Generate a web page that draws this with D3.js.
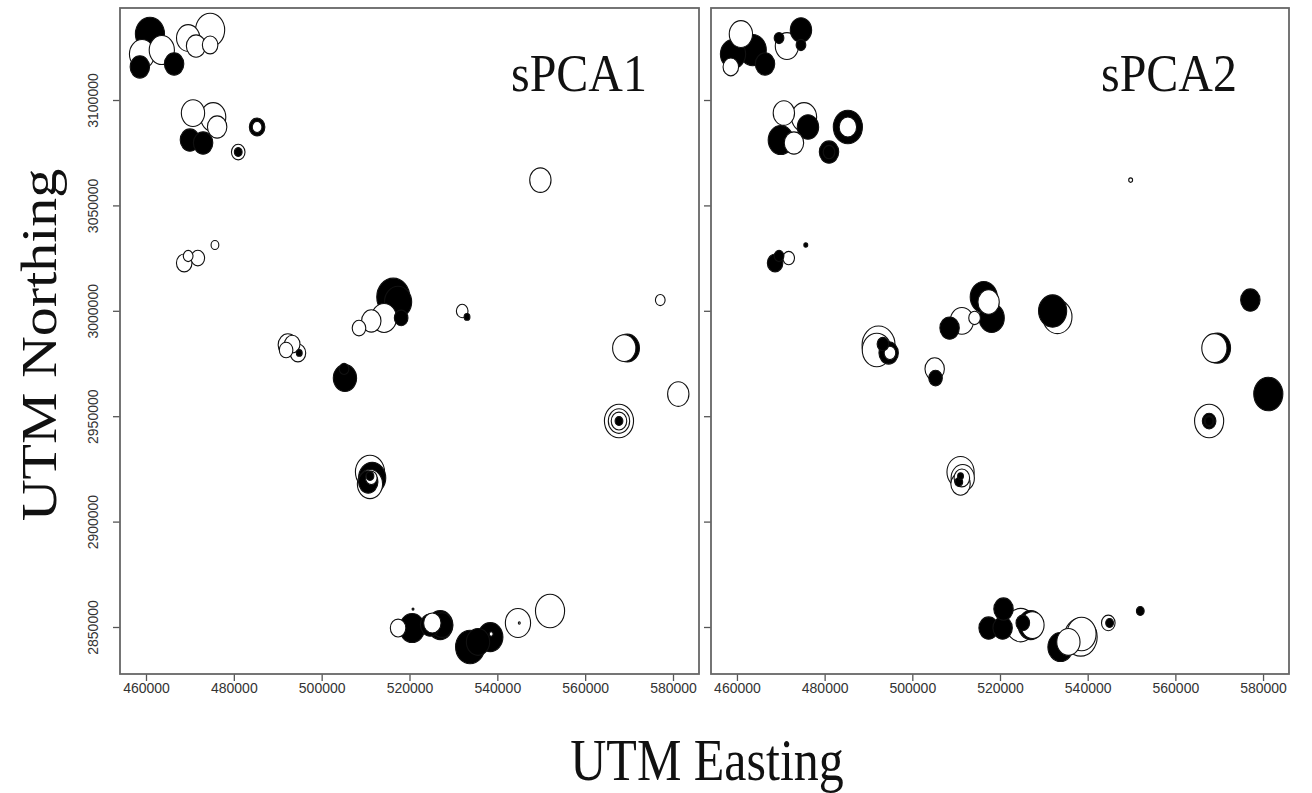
<!DOCTYPE html>
<html>
<head>
<meta charset="utf-8">
<script src="https://cdn.jsdelivr.net/npm/d3@7"></script>
<style>
  body { margin: 0; background: #fff; }
</style>
</head>
<body>
<svg id="chart" width="1312" height="793"></svg>
<script>
// sampling sites (UTM) and the two sPCA scores for each individual
const easting = [
  459100, 463600, 460900, 466400, 458600, 469600, 471400, 474600, 474600,
  470700, 475300, 476200, 470000, 473000, 485300, 485300, 481000, 481000,
  549800,
  468700, 471800, 469600, 475700,
  492300, 491900, 494600, 494900, 493300,
  516300, 517400, 518100, 514200, 511300, 508500,
  505300, 505100,
  532000, 533100,
  511000, 511500, 511000, 510600, 511300, 511000,
  577100,
  568900, 569600,
  581200,
  567700, 567700, 567700, 567700,
  517400, 520600, 524700, 525200, 527000, 527400, 520800,
  533800, 535600, 538400, 538600, 544700, 545000, 552000
];
const northing = [
  3121800, 3123700, 3131300, 3117100, 3115700, 3129400, 3125600, 3133200, 3126100,
  3093800, 3091900, 3087200, 3081000, 3079600, 3087200, 3087200, 3075300, 3075300,
  3062000,
  3022700, 3025000, 3026000, 3031200,
  2983800, 2981400, 2980000, 2980000, 2984200,
  3006500, 3004200, 2996600, 2996600, 2995200, 2991800,
  2968100, 2972400,
  2999900, 2997100,
  2923500, 2920700, 2917800, 2918800, 2920700, 2921600,
  3005100,
  2982300, 2982300,
  2960500,
  2947700, 2947700, 2947700, 2947700,
  2849500, 2849500, 2850900, 2851900, 2850900, 2850900, 2858500,
  2840500, 2842900, 2845200, 2846700, 2851900, 2851900, 2857600
];
const spca1 = [
  -2.6, -2.6, 3.0, 2.0, 2.0, -2.4, -2.0, -3.0, -1.6,
  -2.4, -2.6, -2.0, 2.0, 2.0, 1.6, -1.0, -1.4, 0.8,
  -2.2,
  -1.6, -1.4, -1.0, -0.8,
  -2.0, -1.4, -1.6, 0.6, -1.6,
  3.4, 2.8, 1.4, -2.6, -2.0, -1.4,
  2.4, 1.0,
  -1.2, 0.6,
  -3.0, 2.8, -2.6, 2.0, -1.2, 0.8,
  -1.0,
  -2.4, 2.5,
  -2.2,
  -3.0, -2.2, -1.6, 0.8,
  -1.6, 2.6, 2.0, -1.8, 2.6, 2.2, 0.2,
  3.0, 2.4, 2.6, -0.4, -2.6, -0.2, -3.0
];
const spca2 = [
  2.6, 2.8, -2.4, 2.0, -1.6, 1.0, -2.4, 2.2, 1.0,
  -2.2, -2.6, 2.2, 2.6, -2.0, 3.0, -1.8, 2.0, 1.2,
  -0.4,
  1.6, -1.2, 1.0, 0.4,
  -3.4, -3.0, 2.0, -1.2, 1.2,
  2.8, -2.2, 2.6, -1.2, -2.4, 2.0,
  1.4, -2.0,
  2.9, -3.0,
  -2.8, -2.4, -2.0, 0.8, -1.6, 0.6,
  2.0,
  -2.6, 2.7,
  3.0,
  -3.0, 1.4, 1.0, 0.8,
  2.0, 2.0, -3.0, 1.4, 2.6, -2.4, 2.0,
  2.6, -2.4, -3.4, -3.0, -1.4, 0.8, 0.8
];
const xTicks = [460000, 480000, 500000, 520000, 540000, 560000, 580000];
const yTicks = [2850000, 2900000, 2950000, 3000000, 3050000, 3100000];
const panelTitles = ["sPCA1", "sPCA2"];

const svg = d3.select("#chart");
const plotTop = 8, plotBottom = 674;
const serif = "Liberation Serif, Times New Roman, serif";
const sans = "Liberation Sans, Arial, sans-serif";

const panels = [
  { title: panelTitles[0], values: spca1, x0: 120, x1: 699, yLabels: true },
  { title: panelTitles[1], values: spca2, x0: 711, x1: 1289, yLabels: false }
];

const y = d3.scaleLinear().domain([2827700, 3143650]).range([plotBottom, plotTop]);
const size = d3.scaleLinear().domain([0, 3.4]).range([0, 16.5]);
const stretch = 1.15; // symbols look slightly taller than wide

panels.forEach(p => {
  const x = d3.scaleLinear().domain([454080, 585920]).range([p.x0, p.x1]);
  const g = svg.append("g");

  // x axis
  const xa = g.append("g")
    .attr("transform", `translate(0,${plotBottom})`)
    .call(d3.axisBottom(x).tickValues(xTicks).tickSize(7).tickPadding(2).tickFormat(d3.format("d")));
  xa.select(".domain").remove();
  xa.selectAll("line").attr("stroke", "#555").attr("stroke-width", 1.3);
  xa.selectAll("text").attr("font-family", sans)
    .attr("font-size", 14).attr("fill", "#333");

  // y axis
  const ya = g.append("g")
    .attr("transform", `translate(${p.x0},0)`)
    .call(d3.axisLeft(y).tickValues(yTicks).tickSize(7).tickFormat(d3.format("d")));
  ya.select(".domain").remove();
  ya.selectAll("line").attr("stroke", "#555").attr("stroke-width", 1.3);
  if (p.yLabels) {
    ya.selectAll("text")
      .attr("transform", "rotate(-90)")
      .attr("x", 0).attr("y", -22).attr("dy", null)
      .attr("text-anchor", "middle")
      .attr("font-family", sans)
      .attr("font-size", 14).attr("fill", "#333");
  } else {
    ya.selectAll("text").remove();
  }

  // symbols: black = positive, white = negative; big ones first
  const order = d3.range(p.values.length)
    .sort((a, b) => Math.abs(p.values[b]) - Math.abs(p.values[a]));
  g.append("g").selectAll("ellipse")
    .data(order)
    .join("ellipse")
    .attr("cx", i => x(easting[i]))
    .attr("cy", i => y(northing[i]))
    .attr("rx", i => size(Math.abs(p.values[i])))
    .attr("ry", i => size(Math.abs(p.values[i])) * stretch)
    .attr("fill", i => p.values[i] > 0 ? "#000" : "#fff")
    .attr("stroke", "#111")
    .attr("stroke-width", 1.1);

  // frame
  g.append("rect")
    .attr("x", p.x0).attr("y", plotTop)
    .attr("width", p.x1 - p.x0).attr("height", plotBottom - plotTop)
    .attr("fill", "none").attr("stroke", "#666").attr("stroke-width", 1.8);

  g.append("text")
    .attr("transform", `translate(${p.x1 - 52},91) scale(1,1.12)`)
    .attr("text-anchor", "end")
    .attr("font-family", serif)
    .attr("font-size", 48)
    .attr("fill", "#111")
    .text(p.title);
});

svg.append("text")
  .attr("transform", "translate(56,345) rotate(-90) scale(1.16,1)")
  .attr("text-anchor", "middle")
  .attr("font-family", serif)
  .attr("font-size", 50)
  .attr("fill", "#111")
  .text("UTM Northing");

svg.append("text")
  .attr("transform", "translate(707,780) scale(1,1.2)")
  .attr("text-anchor", "middle")
  .attr("font-family", serif)
  .attr("font-size", 50)
  .attr("fill", "#111")
  .text("UTM Easting");
</script>
</body>
</html>
